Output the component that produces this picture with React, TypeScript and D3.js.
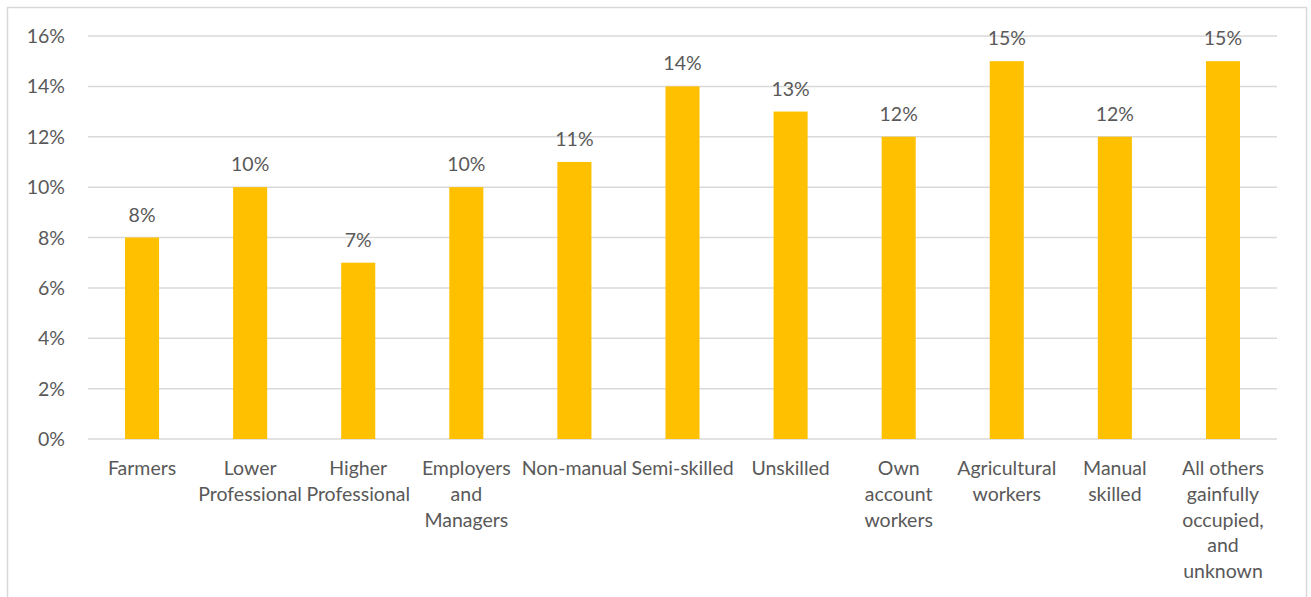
import React from "react";
import * as d3 from "d3";

const categories: string[][] = [
  ["Farmers"],
  ["Lower", "Professional"],
  ["Higher", "Professional"],
  ["Employers", "and", "Managers"],
  ["Non-manual"],
  ["Semi-skilled"],
  ["Unskilled"],
  ["Own", "account", "workers"],
  ["Agricultural", "workers"],
  ["Manual", "skilled"],
  ["All others", "gainfully", "occupied,", "and", "unknown"],
];
const values: number[] = [8, 10, 7, 10, 11, 14, 13, 12, 15, 12, 15];
const yTicks: number[] = [0, 2, 4, 6, 8, 10, 12, 14, 16];

const W = 1311;
const H = 597;
const left = 88;
const right = 1277;
const top = 36;
const bottom = 439;
const font = "Lato, 'Open Sans', sans-serif";
const textColor = "#595959";
const fs = 19.5;

export default function App() {
  const x = d3
    .scaleBand<number>()
    .domain(categories.map((_, i) => i))
    .range([left, right])
    .paddingInner(0.685)
    .paddingOuter(0.3425);
  const y = d3.scaleLinear().domain([0, 16]).range([bottom, top]);

  return (
    <svg
      width={W}
      height={H}
      style={{ position: "absolute", left: 0, top: 0, background: "#fff" }}
    >
      <rect x={7.5} y={7.5} width={1299} height={H} fill="#fff" stroke="#d9d9d9" strokeWidth={1.5} />
      {yTicks.map((t) => (
        <g key={t}>
          <line x1={left} x2={right} y1={y(t)} y2={y(t)} stroke="#d9d9d9" strokeWidth={1.5} />
          <text
            x={65}
            y={y(t)}
            dy="0.36em"
            textAnchor="end"
            fontFamily={font}
            fontSize={fs}
            fill={textColor}
          >
            {t}%
          </text>
        </g>
      ))}
      {values.map((v, i) => (
        <g key={i}>
          <rect x={x(i)} y={y(v)} width={x.bandwidth()} height={bottom - y(v)} fill="#FFC000" />
          <text
            x={(x(i) as number) + x.bandwidth() / 2}
            y={y(v) - 16}
            textAnchor="middle"
            fontFamily={font}
            fontSize={fs}
            fill={textColor}
          >
            {v}%
          </text>
        </g>
      ))}
      {categories.map((lines, i) => (
        <text
          key={i}
          x={(x(i) as number) + x.bandwidth() / 2}
          y={475}
          textAnchor="middle"
          fontFamily={font}
          fontSize={fs}
          fill={textColor}
        >
          {lines.map((l, j) => (
            <tspan key={j} x={(x(i) as number) + x.bandwidth() / 2} dy={j === 0 ? 0 : 25.8}>
              {l}
            </tspan>
          ))}
        </text>
      ))}
    </svg>
  );
}
